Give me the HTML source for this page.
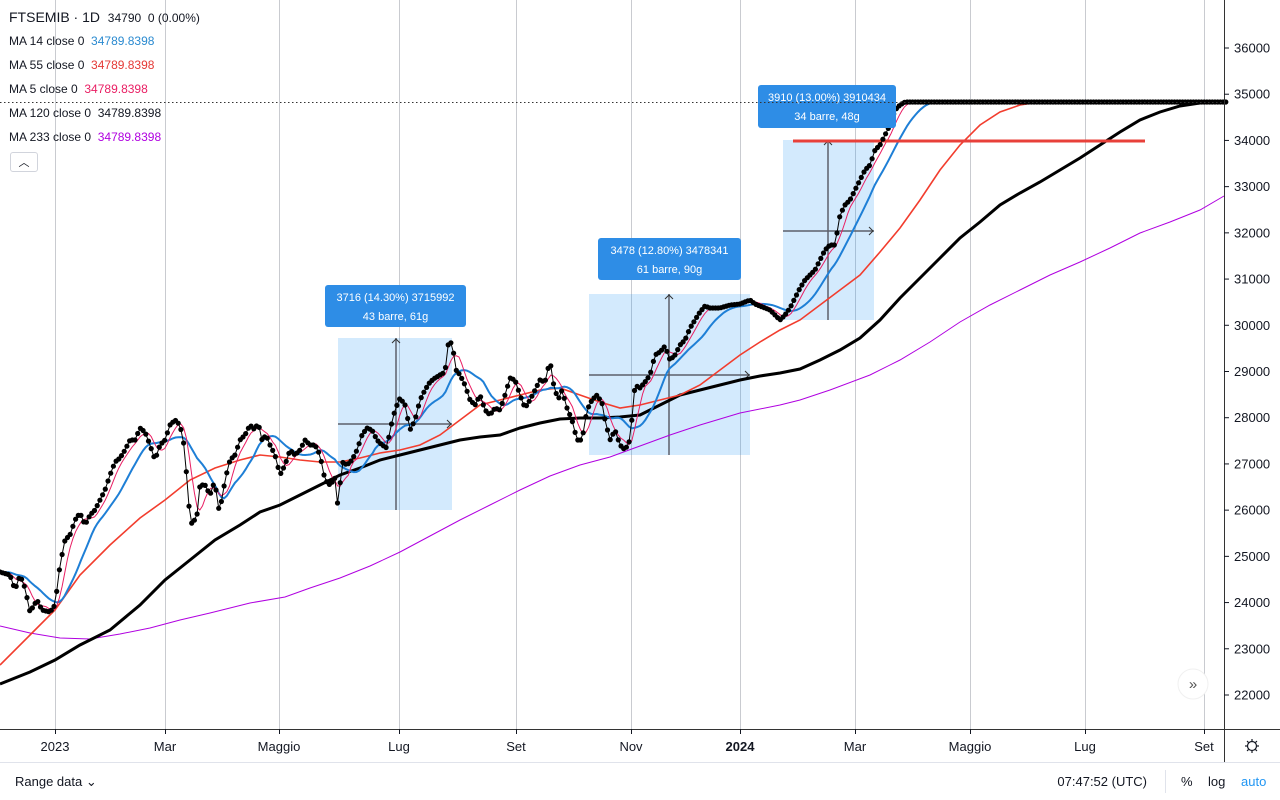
<!DOCTYPE html>
<html><head><meta charset="utf-8"><style>
html,body{margin:0;padding:0;background:#fff;width:1280px;height:800px;overflow:hidden;font-family:"Liberation Sans","DejaVu Sans",sans-serif;}
svg{position:absolute;left:0;top:0}
.lg{position:absolute;left:9px;font-size:12px;color:#131722;white-space:nowrap}
</style></head><body>
<svg id="s" width="1280" height="800" xmlns="http://www.w3.org/2000/svg" font-family="Liberation Sans, sans-serif">
<g stroke="#c9cbd0" stroke-width="1">
<line x1="55.5" y1="0" x2="55.5" y2="729"/><line x1="165.5" y1="0" x2="165.5" y2="729"/><line x1="279.5" y1="0" x2="279.5" y2="729"/><line x1="399.5" y1="0" x2="399.5" y2="729"/><line x1="516.5" y1="0" x2="516.5" y2="729"/><line x1="631.5" y1="0" x2="631.5" y2="729"/><line x1="740.5" y1="0" x2="740.5" y2="729"/><line x1="855.5" y1="0" x2="855.5" y2="729"/><line x1="970.5" y1="0" x2="970.5" y2="729"/><line x1="1085.5" y1="0" x2="1085.5" y2="729"/><line x1="1204.5" y1="0" x2="1204.5" y2="729"/>
</g>
<g id="boxes"></g>
<g id="lines"></g>
<line x1="0" y1="102.5" x2="1224" y2="102.5" stroke="#333" stroke-dasharray="1.5,2.5"/>
<line x1="1224.5" y1="0" x2="1224.5" y2="762" stroke="#333"/>
<line x1="0" y1="729.5" x2="1280" y2="729.5" stroke="#333"/>
<line x1="0" y1="762.5" x2="1280" y2="762.5" stroke="#e0e3eb"/>
<line x1="1165.5" y1="770" x2="1165.5" y2="793" stroke="#e0e3eb"/>
<g id="ax" font-size="13" fill="#131722"></g>
<g font-size="13" fill="#131722" text-anchor="middle">
<text x="55" y="751">2023</text><text x="165" y="751">Mar</text><text x="279" y="751">Maggio</text><text x="399" y="751">Lug</text><text x="516" y="751">Set</text><text x="631" y="751">Nov</text><text x="740" y="751" font-weight="bold">2024</text><text x="855" y="751">Mar</text><text x="970" y="751">Maggio</text><text x="1085" y="751">Lug</text><text x="1204" y="751">Set</text>
</g>
<g stroke="#131722" stroke-width="1">
<line x1="55.5" y1="729" x2="55.5" y2="734"/><line x1="165.5" y1="729" x2="165.5" y2="734"/><line x1="279.5" y1="729" x2="279.5" y2="734"/><line x1="399.5" y1="729" x2="399.5" y2="734"/><line x1="516.5" y1="729" x2="516.5" y2="734"/><line x1="631.5" y1="729" x2="631.5" y2="734"/><line x1="740.5" y1="729" x2="740.5" y2="734"/><line x1="855.5" y1="729" x2="855.5" y2="734"/><line x1="970.5" y1="729" x2="970.5" y2="734"/><line x1="1085.5" y1="729" x2="1085.5" y2="734"/><line x1="1204.5" y1="729" x2="1204.5" y2="734"/>
</g>
<g transform="translate(1252,746)" fill="none" stroke="#131722" stroke-width="1.2"><circle r="4.5"/><g id="gear"></g></g>
<circle cx="1193" cy="684" r="15" fill="#fff" stroke="#f0f0f0"/>
<text x="1193" y="689" font-size="15" text-anchor="middle" fill="#555">»</text>
<text x="15" y="786" font-size="13" fill="#131722">Range data ⌄</text>
<text x="1147" y="786" font-size="13" fill="#131722" text-anchor="end">07:47:52 (UTC)</text>
<text x="1181" y="786" font-size="13" fill="#131722">%</text>
<text x="1208" y="786" font-size="13" fill="#131722">log</text>
<text x="1241" y="786" font-size="13" fill="#2196f3">auto</text>
</svg>
<div class="lg" style="top:9px;font-size:14px">FTSEMIB · 1D &nbsp;<span style="font-size:12px">34790&nbsp; 0 (0.00%)</span></div>
<div class="lg" style="top:34px">MA 14 close 0 &nbsp;<span style="color:#2a8ad0">34789.8398</span></div>
<div class="lg" style="top:58px">MA 55 close 0 &nbsp;<span style="color:#e53935">34789.8398</span></div>
<div class="lg" style="top:82px">MA 5 close 0 &nbsp;<span style="color:#e91e63">34789.8398</span></div>
<div class="lg" style="top:106px">MA 120 close 0 &nbsp;<span>34789.8398</span></div>
<div class="lg" style="top:130px">MA 233 close 0 &nbsp;<span style="color:#b000e0">34789.8398</span></div>
<div style="position:absolute;left:10px;top:152px;width:26px;height:18px;border:1px solid #d1d4dc;border-radius:3px;font-size:11px;text-align:center;line-height:20px;color:#131722">︿</div>
<script>
var NS="http://www.w3.org/2000/svg";
function el(p,t,a,txt){var e=document.createElementNS(NS,t);for(var k in a)e.setAttribute(k,a[k]);if(txt!=null)e.textContent=txt;document.getElementById(p).appendChild(e);return e;}
// axis labels
for(var p=36000;p>=22000;p-=1000){var y=48+(36000-p)*0.046214;el("ax","text",{x:1234,y:y+4.5},String(p));el("ax","line",{x1:1224,y1:y,x2:1229,y2:y,stroke:"#131722"});}
for(var i=0;i<8;i++){var a=i*Math.PI/4;el("gear","line",{x1:Math.cos(a)*5,y1:Math.sin(a)*5,x2:Math.cos(a)*7,y2:Math.sin(a)*7});}
// boxes
function box(x1,y1,x2,y2,cx,cy,lx1,ly1,lx2,ly2,t1,t2){
el("boxes","rect",{x:x1,y:y1,width:x2-x1,height:y2-y1,fill:"rgba(33,150,243,0.2)"});
el("boxes","line",{x1:cx,y1:y2,x2:cx,y2:y1,stroke:"#5d606b","stroke-width":1.5});
el("boxes","line",{x1:x1,y1:cy,x2:x2,y2:cy,stroke:"#5d606b","stroke-width":1.5});
el("boxes","path",{d:"M"+(cx-4)+","+(y1+5)+"L"+cx+","+(y1+1)+"L"+(cx+4)+","+(y1+5),fill:"none",stroke:"#333"});
el("boxes","path",{d:"M"+(x2-5)+","+(cy-4)+"L"+(x2-1)+","+cy+"L"+(x2-5)+","+(cy+4),fill:"none",stroke:"#333"});
el("lines","rect",{x:lx1,y:ly1,width:lx2-lx1,height:ly2-ly1,rx:3,fill:"#2e8de6"});
var m=(lx1+lx2)/2;
el("lines","text",{x:m,y:ly1+16,"font-size":11,fill:"#fff","text-anchor":"middle"},t1);
el("lines","text",{x:m,y:ly1+35,"font-size":11,fill:"#fff","text-anchor":"middle"},t2);
}
var L=[];
box(338,338,452,510,396,424,325,285,466,327,"3716 (14.30%) 3715992","43 barre, 61g");
box(589,294,750,455,669,375,598,238,741,280,"3478 (12.80%) 3478341","61 barre, 90g");
box(783,140,874,320,828,231,758,85,896,128,"3910 (13.00%) 3910434","34 barre, 48g");
function interp(pts,step){var out=[];var x=pts[0][0];var j=0;while(x<=pts[pts.length-1][0]){while(pts[j+1]&&pts[j+1][0]<x)j++;var a=pts[j],b=pts[j+1]||a;var t=b[0]==a[0]?0:(x-a[0])/(b[0]-a[0]);out.push([x,a[1]+(b[1]-a[1])*t]);x+=step;}return out;}
function pathOf(arr){return "M"+arr.map(function(p){return p[0].toFixed(1)+","+p[1].toFixed(1)}).join("L");}
var P=[[0,572],[10,575],[15,590],[20,575],[25,588],[30,612],[37,600],[42,610],[50,612],[55,605],[60,565],[65,540],[70,535],[75,520],[80,513],[85,525],[90,515],[95,510],[100,500],[105,490],[110,475],[115,462],[120,458],[125,450],[130,440],[135,440],[140,428],[145,432],[150,445],[155,460],[160,445],[165,440],[170,425],[175,420],[180,425],[185,450],[188,500],[192,525],[197,515],[200,485],[205,485],[210,495],[215,480],[218,510],[222,500],[225,480],[230,460],[235,455],[240,440],[245,435],[250,425],[255,430],[258,422],[262,440],[266,435],[270,445],[275,455],[280,475],[285,465],[290,450],[295,455],[300,450],[305,440],[310,445],[315,445],[320,455],[325,480],[330,485],[335,478],[338,508],[342,462],[347,465],[352,460],[357,450],[362,435],[367,428],[372,430],[377,440],[382,445],[387,448],[390,430],[395,410],[400,398],[405,405],[410,430],[415,420],[420,400],[425,390],[430,382],[435,378],[440,375],[445,372],[448,345],[452,342],[456,370],[460,375],[465,385],[470,400],[475,405],[480,395],[485,410],[490,415],[495,408],[500,410],[505,395],[510,378],[515,380],[520,395],[525,408],[530,400],[535,390],[540,380],[545,382],[550,360],[553,382],[558,400],[562,390],[567,408],[572,420],[577,440],[582,440],[587,410],[592,400],[597,395],[602,403],[605,420],[610,440],[615,430],[620,445],[625,450],[630,440],[635,385],[640,388],[645,382],[650,375],[653,363],[655,355],[660,352],[665,346],[670,360],[675,355],[680,345],[685,340],[690,328],[695,320],[700,312],[705,306],[710,308],[720,308],[730,305],[740,304],[745,302],[750,300],[755,304],[760,306],[765,308],[770,310],[775,315],[780,320],[785,315],[790,308],[795,298],[800,288],[805,280],[810,275],[815,270],[820,260],[825,250],[830,245],[835,245],[840,215],[845,205],[850,200],[855,190],[860,180],[865,170],[870,165],[875,150],[880,145],[885,135],[890,125],[895,110],[900,105],[905,102],[1226,102]];
var D=interp(P,2.7);
function ma(n){var o=[];for(var i=0;i<D.length;i++){var s=0;for(var k=0;k<n;k++){s+=D[Math.max(0,i-k)][1];}o.push([D[i][0],s/n]);}return o;}
var M233=[[0,626],[30,633],[60,638],[90,639],[120,634],[150,628],[180,620],[210,613],[250,603],[285,597],[310,588],[340,578],[370,566],[400,552],[430,536],[460,520],[490,505],[520,490],[550,476],[580,465],[610,457],[640,446],[670,435],[700,425],[740,413],[780,405],[800,400],[830,390],[870,375],[900,360],[930,342],[960,322],[990,305],[1020,290],[1050,275],[1080,262],[1110,248],[1140,233],[1170,222],[1200,210],[1224,196]];
var M55=[[0,665],[30,635],[55,610],[80,575],[110,545],[140,518],[165,500],[190,480],[215,468],[240,460],[260,455],[280,457],[300,460],[320,462],[340,462],[360,458],[380,453],[400,450],[420,445],[440,435],[460,420],[480,405],[500,400],[520,395],[540,390],[560,388],[580,395],[600,402],[620,408],[640,405],[660,400],[680,395],[700,385],[720,370],[740,355],[760,342],[780,330],[800,320],[820,305],[840,290],[860,275],[880,252],[900,228],[920,200],[940,170],[960,145],[980,125],[1000,112],[1020,105],[1040,102],[1224,102]];
var M120=[[0,684],[30,672],[55,660],[80,645],[110,630],[140,605],[165,580],[190,560],[215,540],[240,525],[260,512],[280,505],[300,495],[320,485],[340,475],[360,468],[380,460],[400,455],[420,450],[440,445],[460,440],[480,437],[500,435],[520,428],[540,423],[560,419],[580,418],[600,418],[620,417],[640,415],[660,405],[680,395],[700,390],[720,385],[740,380],[760,376],[780,373],[800,369],[820,360],[840,350],[860,338],[880,320],[900,298],[920,278],[940,258],[960,238],[980,222],[1000,205],[1020,193],[1040,182],[1060,170],[1080,158],[1100,145],[1120,132],[1140,120],[1160,112],[1180,106],[1200,103],[1224,102]];
var g="lines";
el(g,"path",{d:pathOf(M233),fill:"none",stroke:"#b000e0","stroke-width":1});
el(g,"path",{d:pathOf(M120),fill:"none",stroke:"#000","stroke-width":3});
el(g,"path",{d:pathOf(M55),fill:"none",stroke:"#f23d2e","stroke-width":1.6});
el(g,"path",{d:pathOf(ma(14)),fill:"none",stroke:"#1e7fd6","stroke-width":2});
el(g,"path",{d:pathOf(ma(5)),fill:"none",stroke:"#e91e63","stroke-width":1});
el(g,"line",{x1:793,y1:141,x2:1145,y2:141,stroke:"#e8403a","stroke-width":3});
el(g,"path",{d:pathOf(D),fill:"none",stroke:"#000","stroke-width":1});
for(var i=0;i<D.length;i++)el(g,"circle",{cx:D[i][0].toFixed(1),cy:D[i][1].toFixed(1),r:2.6,fill:"#000"});
// move label boxes on top
var lb=document.querySelectorAll("#lines rect, #lines text");for(var i=0;i<lb.length;i++)document.getElementById("lines").appendChild(lb[i]);
</script>
</body></html>
